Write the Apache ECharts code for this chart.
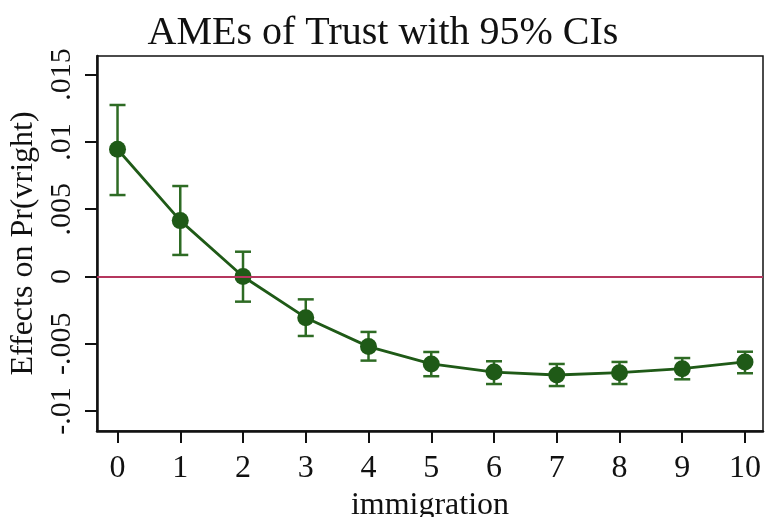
<!DOCTYPE html>
<html>
<head>
<meta charset="utf-8">
<script src="https://cdn.jsdelivr.net/npm/echarts@6/dist/echarts.min.js"></script>
<style>html,body{margin:0;padding:0;background:#fff;}#c{width:766px;height:517px;}</style>
</head>
<body>
<div id="c"></div>
<script>
// ---- data ----
const categories = [0, 1, 2, 3, 4, 5, 6, 7, 8, 9, 10];
const ame   = [0.00945, 0.00415, 0.0000, -0.00306, -0.00521, -0.0065, -0.0071, -0.00732, -0.00715, -0.00685, -0.00635];
const lower = [0.00605, 0.0016, -0.00187, -0.00442, -0.00625, -0.00741, -0.00799, -0.00814, -0.00799, -0.00764, -0.00719];
const upper = [0.01274, 0.00672, 0.00184, -0.0017, -0.00412, -0.00561, -0.0063, -0.0065, -0.00635, -0.00606, -0.00559];
const xTickValues = [0, 1, 2, 3, 4, 5, 6, 7, 8, 9, 10];
const yTickValues = [-0.01, -0.005, 0, 0.005, 0.01, 0.015];
const yTickLabels = ['-.01', '-.005', '0', '.005', '.01', '.015'];
const titleText = 'AMEs of Trust with 95% CIs';
const xName = 'immigration';
const yName = 'Effects on Pr(vright)';

const FONT = '"Liberation Serif", "Times New Roman", serif';
const GREEN = '#1f5a17';
const BAR_GREEN = '#2e6b24';

const chart = echarts.init(document.getElementById('c'), null, {renderer: 'canvas'});

const pointData = categories.map((c, i) => [c, ame[i]]);
const ciData = categories.map((c, i) => [c, lower[i], upper[i]]);

chart.setOption({
  animation: false,
  backgroundColor: '#fff',
  title: {
    text: titleText,
    left: 'center',
    top: 8,
    textStyle: {fontFamily: FONT, fontSize: 40, fontWeight: 'normal', color: '#111'}
  },
  grid: {
    left: 97, right: 3, top: 56, bottom: 86,
    containLabel: false, outerBoundsMode: 'none',
    show: true, borderColor: '#111', borderWidth: 1.5, backgroundColor: '#fff'
  },
  xAxis: {
    type: 'value',
    min: -0.327, max: 10.287,
    name: xName, nameLocation: 'middle', nameGap: 53,
    nameTextStyle: {fontFamily: FONT, fontSize: 32, color: '#111'},
    axisLine: {show: true, onZero: false, lineStyle: {color: '#111', width: 2.5}},
    axisTick: {show: true, length: 12, lineStyle: {color: '#111', width: 2}, customValues: xTickValues},
    axisLabel: {fontFamily: FONT, fontSize: 32, color: '#111', margin: 22, customValues: xTickValues,
      formatter: v => String(Math.round(v))},
    splitLine: {show: false}
  },
  yAxis: {
    type: 'value',
    min: -0.01148, max: 0.01638,
    name: yName, nameLocation: 'middle', nameGap: 55, nameRotate: 90,
    nameTextStyle: {fontFamily: FONT, fontSize: 32, color: '#111'},
    axisLine: {show: true, onZero: false, lineStyle: {color: '#111', width: 2.5}},
    axisTick: {show: true, length: 12, lineStyle: {color: '#111', width: 2}, customValues: yTickValues},
    axisLabel: {fontFamily: FONT, fontSize: 30, color: '#111', margin: 20, rotate: 90, customValues: yTickValues,
      formatter: v => {
        let best = 0, d = Infinity;
        yTickValues.forEach((t, i) => { if (Math.abs(t - v) < d) { d = Math.abs(t - v); best = i; } });
        return yTickLabels[best];
      }},
    splitLine: {show: false}
  },
  series: [
    {
      type: 'line',
      data: [],
      z: 1,
      markLine: {
        silent: true, symbol: 'none', label: {show: false},
        lineStyle: {color: '#b5365e', width: 2, type: 'solid'},
        data: [{yAxis: 0}]
      }
    },
    {
      type: 'custom',
      z: 2,
      data: ciData,
      renderItem: function (params, api) {
        const x = api.value(0);
        const lo = api.coord([x, api.value(1)]);
        const hi = api.coord([x, api.value(2)]);
        const hw = 8;
        const style = {stroke: BAR_GREEN, lineWidth: 2.5, fill: null};
        return {
          type: 'group',
          children: [
            {type: 'line', shape: {x1: lo[0], y1: lo[1], x2: hi[0], y2: hi[1]}, style: style},
            {type: 'line', shape: {x1: lo[0] - hw, y1: lo[1], x2: lo[0] + hw, y2: lo[1]}, style: style},
            {type: 'line', shape: {x1: hi[0] - hw, y1: hi[1], x2: hi[0] + hw, y2: hi[1]}, style: style}
          ]
        };
      }
    },
    {
      type: 'line',
      z: 3,
      data: pointData,
      symbol: 'circle',
      symbolSize: 17,
      showSymbol: true,
      lineStyle: {color: GREEN, width: 2.8},
      itemStyle: {color: GREEN, borderWidth: 0}
    }
  ]
});
</script>
</body>
</html>
